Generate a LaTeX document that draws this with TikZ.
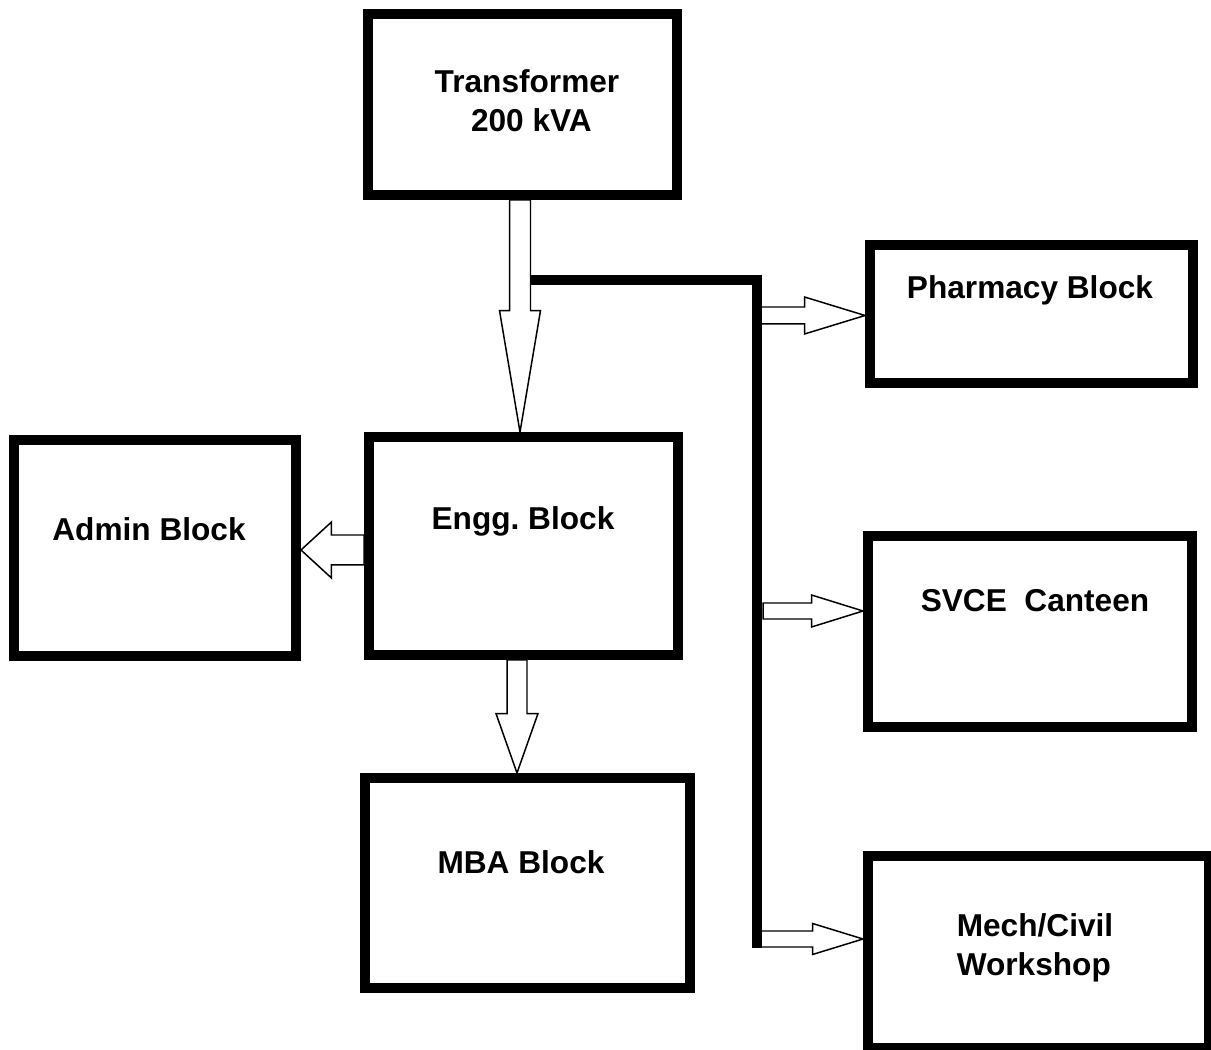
\documentclass[tikz,border=0pt]{standalone}
\usepackage{fontspec}
\setmainfont{Liberation Sans}
\usepackage{tikz}
\usetikzlibrary{calc}
\frenchspacing

\begin{document}
\begin{tikzpicture}[
    x=0.02cm, y=-0.02cm,
    block/.style={rectangle, draw=black, line width=0.19cm, inner sep=0pt},
    btext/.style={inner sep=0pt, font=\fontsize{18}{22.5}\selectfont\bfseries},
    bus/.style={line width=0.2cm},
    hollow/.style n args={3}{draw=black, line width=0.85pt, line join=miter,
        to path={($(\tikztostart)!#1!90:(\tikztotarget)$)
          -- ($($(\tikztotarget)!#3!(\tikztostart)$)!#1!90:(\tikztotarget)$)
          -- ($($(\tikztotarget)!#3!(\tikztostart)$)!#2!90:(\tikztotarget)$)
          -- (\tikztotarget)
          -- ($($(\tikztotarget)!#3!(\tikztostart)$)!#2!-90:(\tikztotarget)$)
          -- ($($(\tikztotarget)!#3!(\tikztostart)$)!#1!-90:(\tikztotarget)$)
          -- ($(\tikztostart)!#1!-90:(\tikztotarget)$) -- cycle}}
]
\useasboundingbox (0,0) rectangle (1211,1050);
\clip (0,0) rectangle (1211,1050);

\node[block, minimum width=6.19cm, minimum height=3.63cm] (trafo) at (522.5,104.5) {};
\node[block, minimum width=6.19cm, minimum height=4.37cm] (engg) at (523.5,546) {};
\node[block, minimum width=5.65cm, minimum height=4.33cm] (admin) at (155,548) {};
\node[block, minimum width=6.51cm, minimum height=4.21cm] (mba) at (527.5,883) {};
\node[block, minimum width=6.47cm, minimum height=2.77cm] (pharm) at (1031.5,314) {};
\node[block, minimum width=6.49cm, minimum height=3.83cm] (canteen) at (1030,631.5) {};
\node[block, minimum width=6.83cm, minimum height=3.85cm] (mech) at (1038.5,952) {};

\node[btext, align=center] (trafolbl) at (527,100.5) {Transformer\\\ 200 kVA};
\node[btext, anchor=base] (engglbl) at (523,530) {Engg. Block};
\node[btext, anchor=base] (adminlbl) at (149,541) {Admin Block};
\node[btext, anchor=base] (mbalbl) at (521,873) {MBA Block};
\node[btext, anchor=base] (pharmlbl) at (1030,299) {Pharmacy Block};
\node[btext, anchor=base] (canteenlbl) at (1035,612) {SVCE\ \ Canteen};
\node[btext, align=left] (mechlbl) at (1035,948) {Mech/Civil\\Workshop};

\coordinate (feed) at (520,200);
\coordinate (junc) at (530,280);
\coordinate (bend) at (757,280);
\coordinate (busend) at (757,948);
\coordinate (tapA) at (757,315.5);
\coordinate (tapB) at (763,611);
\coordinate (tapC) at (757,939);

\draw[bus] (junc) -- (bend) -- (busend);

\draw[hollow={0.21cm}{0.41cm}{2.43cm}] (feed) to (feed |- engg.north);
\draw[hollow={0.3cm}{0.56cm}{0.61cm}] (engg.west |- 0,550) to (admin.east |- 0,550);
\draw[hollow={0.2cm}{0.42cm}{1.19cm}] (engg.south -| 517,0) to (mba.north -| 517,0);
\draw[hollow={0.17cm}{0.37cm}{1.21cm}] (tapA) to (pharm.west |- tapA);
\draw[hollow={0.16cm}{0.32cm}{1.03cm}] (tapB) to (canteen.west |- tapB);
\draw[hollow={0.16cm}{0.31cm}{1.01cm}] (tapC) to (mech.west |- tapC);

\end{tikzpicture}
\end{document}
